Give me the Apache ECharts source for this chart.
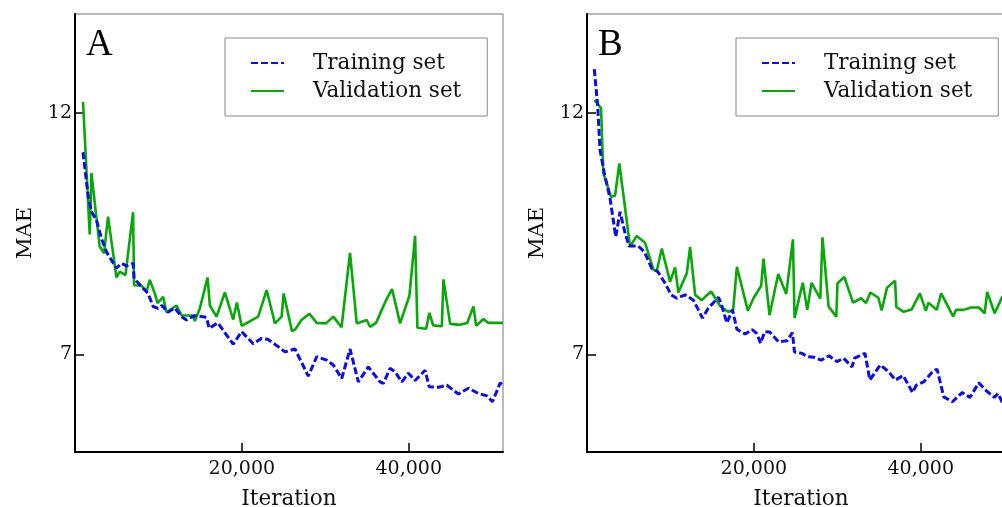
<!DOCTYPE html>
<html>
<head>
<meta charset="utf-8">
<script src="https://cdn.jsdelivr.net/npm/echarts@6/dist/echarts.min.js"></script>
<style>
html,body{margin:0;padding:0;background:#fff;}
#chart{width:1002px;height:507px;}
</style>
</head>
<body>
<div id="chart"></div>
<script>
// ---------- data ----------
const seriesNames = ['Training set', 'Validation set'];
const panelLabels = ['A', 'B'];
const xTickValues = [20000, 40000];
const yTickValues = [7, 12];

// Panel A – training
const iterTrainA = [960,1560,1968,2568,3168,3768,4368,4968,5568,6168,6960,7080,7968,8760,9360,9960,10440,11124,11964,12768,13368,13764,14364,15360,15768,16080,17124,18960,19968,21360,22368,23124,24360,25164,26364,27960,28968,30168,30960,31968,32964,33960,35160,36564,36960,37764,38364,39168,39960,40764,41964,42444,43560,44568,45960,47160,48360,49368,50040,50964,51300];
const maeTrainA  = [11.18,10.30,9.95,9.78,9.40,9.12,8.95,8.78,8.88,8.83,8.88,8.57,8.40,8.26,7.99,7.95,8.01,7.87,7.96,7.78,7.71,7.75,7.80,7.78,7.76,7.54,7.65,7.21,7.47,7.22,7.33,7.31,7.16,7.05,7.11,6.55,6.95,6.88,6.78,6.50,7.11,6.43,6.74,6.43,6.40,6.71,6.64,6.43,6.61,6.46,6.67,6.33,6.32,6.36,6.18,6.30,6.19,6.14,6.02,6.41,6.35];

// Panel A – validation
const iterValA = [960,1764,1968,2964,3480,3960,4968,5364,6048,6960,7080,7968,8568,8964,9564,9888,10560,10968,12168,12768,14160,14364,14964,15888,16164,16968,17964,18960,19404,19968,21960,22968,23964,24768,25008,26004,26364,27144,28104,28968,30084,30960,31944,32964,33768,34968,35364,36084,36768,37284,38004,38964,40080,40764,41040,42084,42480,42924,43968,44160,44964,46164,47004,47760,48084,48960,49560,51300];
const maeValA  = [12.22,9.48,10.75,9.23,9.09,9.85,8.59,8.71,8.64,9.94,8.43,8.42,8.30,8.54,8.26,8.06,8.19,7.87,8.01,7.81,7.80,7.69,7.95,8.59,8.01,7.78,8.28,7.72,8.07,7.59,7.78,8.33,7.64,7.78,8.26,7.48,7.51,7.71,7.84,7.65,7.64,7.78,7.56,9.10,7.64,7.71,7.57,7.65,7.92,8.12,8.35,7.64,8.21,9.45,7.55,7.53,7.86,7.60,7.58,8.55,7.63,7.61,7.65,7.99,7.59,7.73,7.65,7.65];

// Panel B – training
const iterTrainB = [876,1284,1560,2076,2760,3444,3960,4560,5040,6156,6876,7764,8484,9360,10080,10764,11760,12756,13836,14520,15756,16080,16764,17436,17964,18960,19800,20364,20796,21312,21900,22956,23964,24624,24864,25764,26460,27216,28080,29004,29964,30756,31764,32064,33324,33900,35160,36156,36960,37896,39024,39456,40356,41556,41964,42756,43800,44964,45900,46956,47844,48816,49260,49800];
const maeTrainB  = [12.90,12.13,11.23,10.75,10.23,9.43,9.95,9.51,9.24,9.24,9.12,8.78,8.71,8.47,8.23,8.16,8.23,8.12,7.75,7.95,8.18,8.05,7.65,7.92,7.52,7.42,7.51,7.43,7.23,7.47,7.46,7.26,7.28,7.45,7.05,7.02,6.95,6.94,6.88,6.97,6.85,6.92,6.74,6.92,7.02,6.47,6.78,6.64,6.47,6.56,6.21,6.36,6.43,6.67,6.69,6.12,6.02,6.21,6.11,6.41,6.25,6.11,6.19,6.00];

// Panel B – validation
const iterValB = [876,1164,1680,1956,2880,3360,3876,5160,5964,6960,7956,8364,8964,9960,10560,10956,11964,12360,12960,13764,14160,14880,15960,16284,16956,17520,17964,19284,19956,20880,21156,21876,22920,23880,24684,24876,25860,26400,26916,27960,28224,28956,29880,30024,30840,31884,32856,33456,33960,34920,35316,35964,36924,37080,37956,38916,39900,40620,40920,41916,42456,43896,44220,45156,46020,46956,47664,47964,48864,49800];
const maeValB  = [12.26,12.21,12.09,10.75,10.26,10.28,10.95,9.23,9.45,9.31,8.75,8.73,9.19,8.50,8.80,8.28,8.68,9.22,8.23,8.12,8.19,8.30,8.00,7.95,7.88,7.92,8.81,7.90,8.16,8.42,8.98,7.81,8.66,8.25,9.38,7.75,8.48,7.92,8.48,8.15,9.42,7.99,7.78,8.47,8.60,8.07,8.16,8.06,8.28,8.17,7.91,8.38,8.52,7.98,7.88,7.93,8.26,7.90,8.07,7.92,8.26,7.78,7.92,7.92,7.97,7.97,7.85,8.29,7.85,8.20];

// ---------- helpers ----------
const zip = (xs, ys) => xs.map((x, i) => [x, ys[i]]);
const SERIF = '"DejaVu Serif", serif';
const TEXT = '#111';
const BLUE = '#0b0bef';
const GREEN = '#08a808';

const grids = [
  {left: 75, top: 14, width: 428, height: 438},
  {left: 587, top: 14, width: 428, height: 438}
];

function xAxisFor(i) {
  return {
    type: 'value', gridIndex: i, min: 0, max: 51300, interval: 20000,
    name: 'Iteration', nameLocation: 'middle', nameGap: 36,
    nameTextStyle: {fontFamily: SERIF, fontSize: 21.5, color: TEXT},
    axisLine: {show: true, onZero: false, lineStyle: {color: '#000', width: 2}},
    axisTick: {show: true, inside: true, length: 9, customValues: xTickValues, lineStyle: {color: '#000', width: 1.5}},
    axisLabel: {customValues: xTickValues, fontFamily: SERIF, fontSize: 19, color: TEXT, margin: 8,
      formatter: v => v.toLocaleString('en-US')},
    splitLine: {show: false}
  };
}
function yAxisFor(i) {
  return {
    type: 'value', gridIndex: i, min: 4.98, max: 14.04,
    name: 'MAE', nameLocation: 'middle', nameGap: 39,
    nameTextStyle: {fontFamily: SERIF, fontSize: 21, color: TEXT},
    axisLine: {show: true, onZero: false, lineStyle: {color: '#000', width: 2}},
    axisTick: {show: true, inside: true, length: 9, customValues: yTickValues, lineStyle: {color: '#000', width: 1.5}},
    axisLabel: {customValues: yTickValues, fontFamily: SERIF, fontSize: 19, color: TEXT, margin: 3},
    splitLine: {show: false}
  };
}
function legendFor(left) {
  return {
    data: seriesNames, left: left, top: 38, orient: 'vertical',
    itemWidth: 33, itemHeight: 14, itemGap: 6,
    padding: [14, 26, 14, 25],
    borderColor: '#888', borderWidth: 1, backgroundColor: '#fff',
    itemStyle: {opacity: 0, borderWidth: 0},
    textStyle: {fontFamily: SERIF, fontSize: 21.5, color: TEXT, padding: [0, 0, 0, 24]},
    selectedMode: false
  };
}
function lineSeries(name, i, data) {
  const train = name === seriesNames[0];
  return {
    name: name, type: 'line', xAxisIndex: i, yAxisIndex: i, data: data,
    showSymbol: false, symbol: 'none', animation: false,
    lineStyle: train ? {color: BLUE, width: 3, type: [7, 3]} : {color: GREEN, width: 2.6},
    itemStyle: {color: train ? BLUE : GREEN},
    z: train ? 3 : 2
  };
}

const chart = echarts.init(document.getElementById('chart'), null, {renderer: 'canvas'});
chart.setOption({
  animation: false,
  backgroundColor: '#fff',
  grid: grids.map(g => Object.assign({show: true, borderColor: '#777', borderWidth: 1, backgroundColor: 'transparent', containLabel: false, outerBoundsMode: 'none'}, g)),
  xAxis: [xAxisFor(0), xAxisFor(1)],
  yAxis: [yAxisFor(0), yAxisFor(1)],
  legend: [legendFor(225), legendFor(736)],
  series: [
    lineSeries(seriesNames[0], 0, zip(iterTrainA, maeTrainA)),
    lineSeries(seriesNames[1], 0, zip(iterValA, maeValA)),
    lineSeries(seriesNames[0], 1, zip(iterTrainB, maeTrainB)),
    lineSeries(seriesNames[1], 1, zip(iterValB, maeValB))
  ],
  graphic: [
    {type: 'text', left: 86, top: 27, style: {text: panelLabels[0], font: '37px "Liberation Serif", serif', fill: '#000'}},
    {type: 'text', left: 598, top: 27, style: {text: panelLabels[1], font: '37px "Liberation Serif", serif', fill: '#000'}}
  ]
});
</script>
</body>
</html>
